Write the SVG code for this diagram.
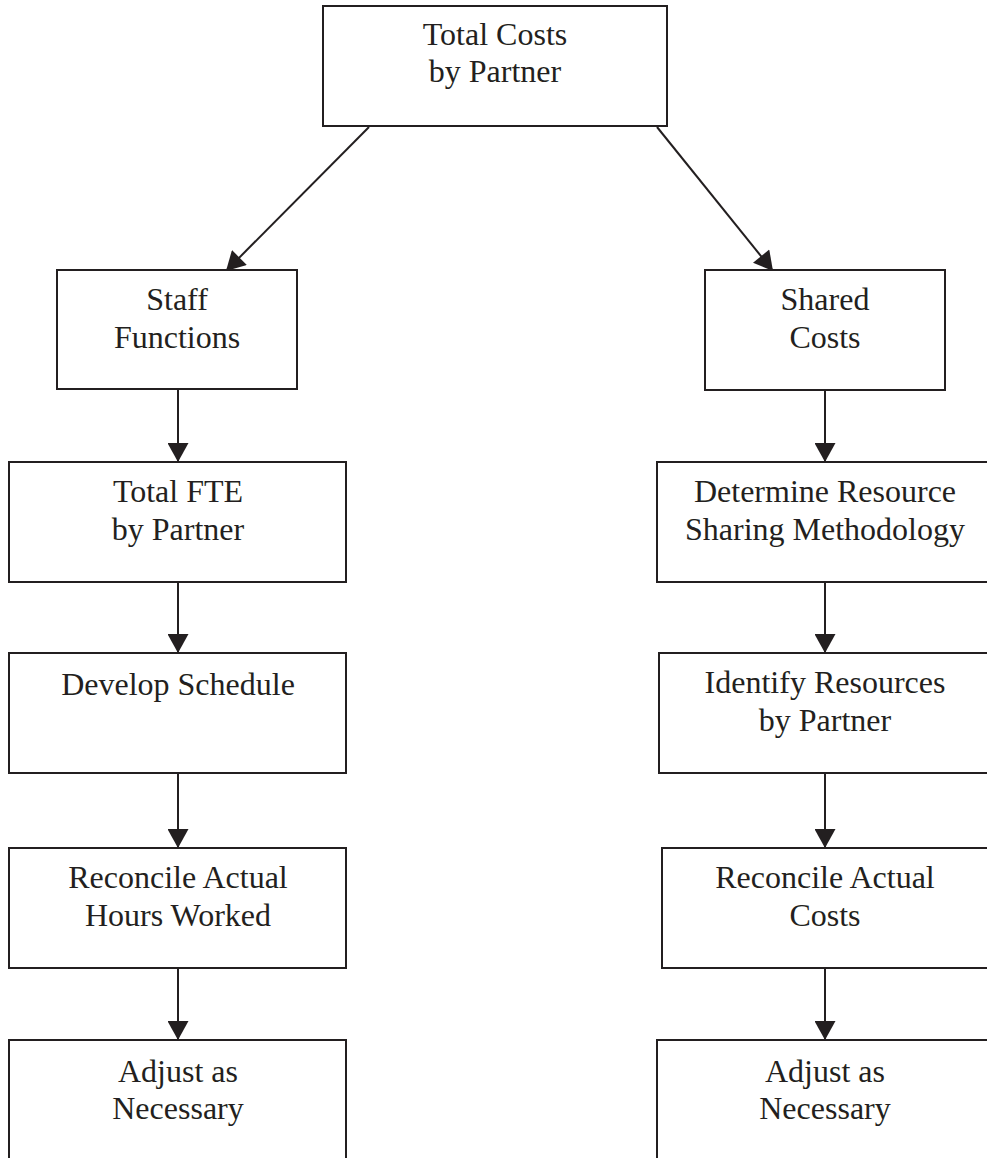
<svg xmlns="http://www.w3.org/2000/svg" width="987" height="1158" viewBox="0 0 987 1158">
<style>
.box{fill:#fff;stroke:#231f20;stroke-width:2}
.lbl{font-family:"Liberation Serif","Times New Roman",serif;font-size:32px;fill:#231f20;text-anchor:middle}
.con{stroke:#231f20;stroke-width:2;fill:none;marker-end:url(#ah)}
</style>
<defs>
<marker id="ah" markerUnits="userSpaceOnUse" markerWidth="21" markerHeight="21" viewBox="0 0 19 21" refX="19" refY="10.5" orient="auto">
<path d="M0,0 L19,10.5 L0,21 Z" fill="#231f20"/>
</marker>
</defs>
<rect width="987" height="1158" fill="#fff"/>
<g id="connectors">
<line class="con" x1="369" y1="127" x2="226" y2="271"/>
<line class="con" x1="657" y1="127" x2="773" y2="271"/>
<line class="con" x1="178" y1="389" x2="178" y2="462"/>
<line class="con" x1="178" y1="582" x2="178" y2="653"/>
<line class="con" x1="178" y1="773" x2="178" y2="848"/>
<line class="con" x1="178" y1="968" x2="178" y2="1040"/>
<line class="con" x1="825" y1="390" x2="825" y2="462"/>
<line class="con" x1="825" y1="582" x2="825" y2="653"/>
<line class="con" x1="825" y1="773" x2="825" y2="848"/>
<line class="con" x1="825" y1="968" x2="825" y2="1040"/>
</g>
<g id="n-total-costs">
<rect class="box" x="323" y="6" width="344" height="120"/>
<text class="lbl" x="495" y="45">Total Costs</text>
<text class="lbl" x="495" y="82">by Partner</text>
</g>
<g id="n-staff-functions">
<rect class="box" x="57" y="270" width="240" height="119"/>
<text class="lbl" x="177" y="310">Staff</text>
<text class="lbl" x="177" y="348">Functions</text>
</g>
<g id="n-shared-costs">
<rect class="box" x="705" y="270" width="240" height="120"/>
<text class="lbl" x="825" y="310">Shared</text>
<text class="lbl" x="825" y="348">Costs</text>
</g>
<g id="n-total-fte">
<rect class="box" x="9" y="462" width="337" height="120"/>
<text class="lbl" x="178" y="502">Total FTE</text>
<text class="lbl" x="178" y="540">by Partner</text>
</g>
<g id="n-determine">
<rect class="box" x="657" y="462" width="337" height="120"/>
<text class="lbl" x="825" y="502">Determine Resource</text>
<text class="lbl" x="825" y="540">Sharing Methodology</text>
</g>
<g id="n-develop">
<rect class="box" x="9" y="653" width="337" height="120"/>
<text class="lbl" x="178" y="695">Develop Schedule</text>
</g>
<g id="n-identify">
<rect class="box" x="659" y="653" width="337" height="120"/>
<text class="lbl" x="825" y="693">Identify Resources</text>
<text class="lbl" x="825" y="731">by Partner</text>
</g>
<g id="n-reconcile-hours">
<rect class="box" x="9" y="848" width="337" height="120"/>
<text class="lbl" x="178" y="888">Reconcile Actual</text>
<text class="lbl" x="178" y="926">Hours Worked</text>
</g>
<g id="n-reconcile-costs">
<rect class="box" x="662" y="848" width="337" height="120"/>
<text class="lbl" x="825" y="888">Reconcile Actual</text>
<text class="lbl" x="825" y="926">Costs</text>
</g>
<g id="n-adjust-left">
<rect class="box" x="9" y="1040" width="337" height="130"/>
<text class="lbl" x="178" y="1082">Adjust as</text>
<text class="lbl" x="178" y="1119">Necessary</text>
</g>
<g id="n-adjust-right">
<rect class="box" x="657" y="1040" width="337" height="130"/>
<text class="lbl" x="825" y="1082">Adjust as</text>
<text class="lbl" x="825" y="1119">Necessary</text>
</g>
</svg>
